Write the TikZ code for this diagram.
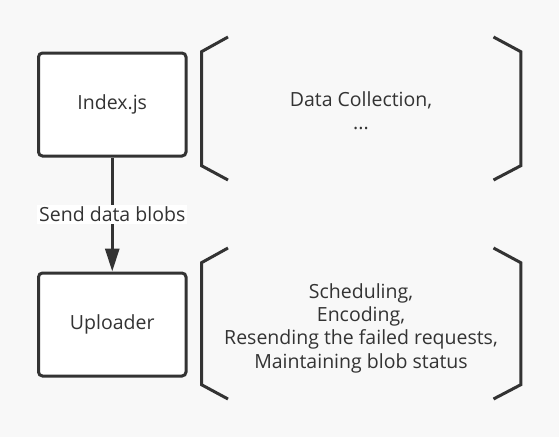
\documentclass[tikz,border=0pt]{standalone}
\usepackage{fontspec}
\setmainfont{Open Sans}
\usetikzlibrary{arrows.meta}
\definecolor{ink}{HTML}{333333}
\definecolor{paper}{HTML}{F8F8F8}

\begin{document}
\begin{tikzpicture}[x=1pt, y=-1pt,
    module/.style={draw=ink, line width=3pt, fill=white, rounded corners=4pt,
        minimum width=147.5pt, minimum height=103pt, text=ink,
        font=\fontsize{19.5}{23.3}\selectfont},
    duty/.style={text=ink, align=center, font=\fontsize{19.5}{23.3}\selectfont},
    brace/.style={draw=ink, line width=3pt},
    flow/.style={draw=ink, line width=3pt, -{Triangle[length=23pt, width=14pt]}}]
    \fill[paper] (0,0) rectangle (559,437);
    \useasboundingbox (0,0) rectangle (559,437);
    % the two modules
    \node[module] (index) at (112.25,104.5) {Index.js};
    \node[module] (uploader) at (112.25,324.5) {Uploader};
    \draw[flow] (index) -- node[fill=white, text=ink, inner sep=2pt,
        font=\fontsize{19.5}{23.3}\selectfont] (send) {Send data blobs} (uploader);
    % what each module does
    \node[duty] (collect) at (361,110.5) {Data Collection,\\...};
    \node[duty] (upload) at (361,328) {Scheduling,\\Encoding,\\Resending the failed requests,\\Maintaining blob status};
    % brackets
    \foreach \top/\bot in {37/180, 248/399} {
        \draw[brace] (228,\top) -- (201.5,\top+14.7) -- (201.5,\bot-14.3) -- (228,\bot);
        \draw[brace] (493.5,\top) -- (520.8,\top+14.7) -- (520.8,\bot-14.3) -- (493.5,\bot);
    }
\end{tikzpicture}
\end{document}
